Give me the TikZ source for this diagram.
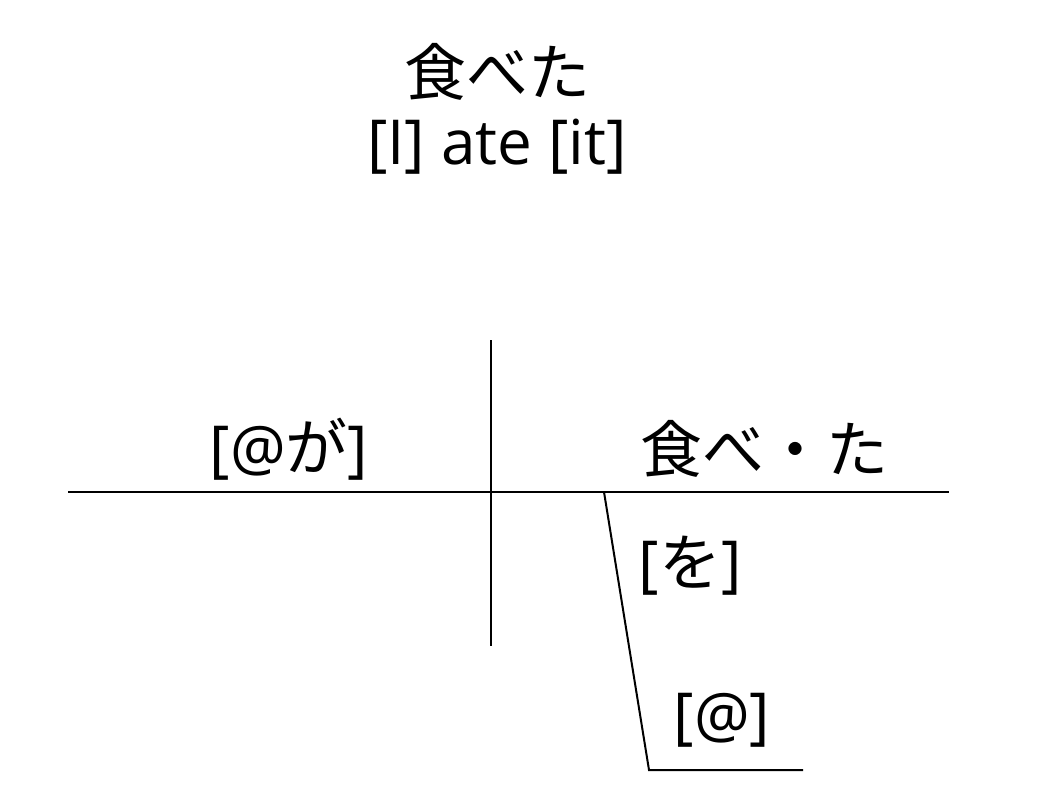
\documentclass[tikz,border=0pt]{standalone}
\usepackage{fontspec}
\setmainfont{Open Sans}
\newfontfamily\jp{Noto Sans CJK JP}
\begin{document}
\begin{tikzpicture}[x=1pt,y=-1pt,
  lbl/.style={font=\fontsize{62}{68}\selectfont, inner sep=0pt, anchor=center},
  ln/.style={draw=black, line width=2pt}]
\useasboundingbox (0,0) rectangle (1044,810);
\node[lbl] (t1) at (497,72) {\jp 食べた};
\node[lbl] (t2) at (497,147) {[I] ate [it]};
\coordinate (hl) at (68,492);
\coordinate (hr) at (949,492);
\coordinate (vt) at (491,340);
\coordinate (vb) at (491,646);
\coordinate (s1) at (604,492);
\coordinate (s2) at (649,770);
\coordinate (s3) at (803,770);
\draw[ln] (hl) -- (hr);
\draw[ln] (vt) -- (vb);
\draw[ln] (s1) -- (s2) -- (s3);
\node[lbl] (subj) at (289,449) {[@{\jp が}]};
\node[lbl] (verb) at (764,449) {\jp 食べ・た};
\node[lbl] (obj) at (690,566) {[{\jp を}]};
\node[lbl] (at) at (722,720) {[@]};
\end{tikzpicture}
\end{document}
